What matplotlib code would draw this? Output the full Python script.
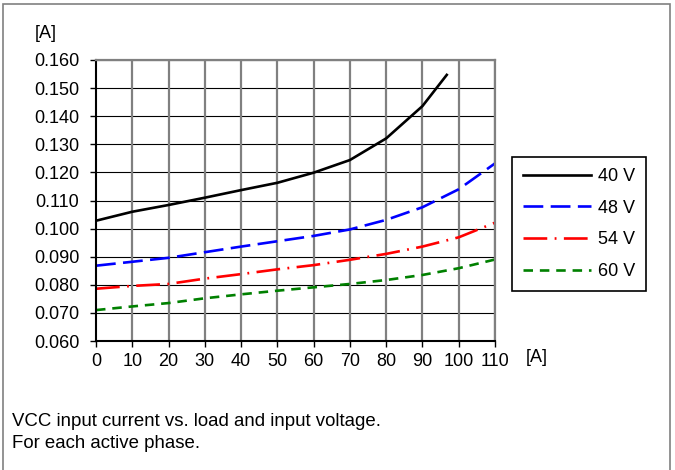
import matplotlib
matplotlib.use("Agg")
import matplotlib.pyplot as plt
from matplotlib.patches import Rectangle

plt.rcParams['font.family'] = ['Liberation Sans', 'DejaVu Sans']

# load current [A]
load = [0, 10, 20, 30, 40, 50, 60, 70, 80, 90, 100, 110]
load_40 = [0, 10, 20, 30, 40, 50, 60, 70, 80, 90, 96.7]

# VCC input current [A] per input voltage
vcc_40 = [0.1028, 0.1060, 0.1084, 0.1110, 0.1137, 0.1163, 0.1199, 0.1244, 0.1321, 0.1436, 0.1547]
vcc_48 = [0.0868, 0.0882, 0.0896, 0.0916, 0.0936, 0.0955, 0.0974, 0.0997, 0.1031, 0.1076, 0.1140, 0.1232]
vcc_54 = [0.0786, 0.0796, 0.0803, 0.0822, 0.0838, 0.0855, 0.0870, 0.0889, 0.0910, 0.0936, 0.0969, 0.1021]
vcc_60 = [0.0710, 0.0723, 0.0735, 0.0752, 0.0766, 0.0779, 0.0791, 0.0803, 0.0817, 0.0835, 0.0859, 0.0890]

labels = ["40 V", "48 V", "54 V", "60 V"]
yticks = [0.060, 0.070, 0.080, 0.090, 0.100, 0.110, 0.120, 0.130, 0.140, 0.150, 0.160]

W, H = 675, 470
fs = 13
fig = plt.figure(figsize=(W / 100, H / 100), dpi=100)

# outer gray frame
fig.patches.append(Rectangle((3 / W, -0.1), 667 / W, 1.1 - 4 / H, transform=fig.transFigure,
                             fill=False, edgecolor="#808080", linewidth=1.2))

ax = fig.add_axes([96 / W, 1 - 341 / H, 399 / W, 281 / H])
lw = 1.9
ax.plot(load_40, vcc_40, color="black", lw=lw, label=labels[0])
ax.plot(load, vcc_48, color="blue", lw=lw, dashes=(7.5, 2.8), label=labels[1])
ax.plot(load, vcc_54, color="red", lw=lw, dashes=(9, 2.8, 0.7, 2.8), label=labels[2])
ax.plot(load, vcc_60, color="green", lw=lw, dashes=(3.6, 2.6), label=labels[3])

ax.set_xlim(0, 110)
ax.set_ylim(0.060, 0.160)
ax.set_xticks(load)
ax.set_yticks(yticks)
ax.set_yticklabels(["%.3f" % v for v in yticks])

for x in load[1:]:
    ax.axvline(x, color="#808080", lw=1.6, zorder=0.5)
for y in yticks[1:]:
    ax.axhline(y, color="black", lw=0.8, zorder=0.4)

for s in ["top", "right"]:
    ax.spines[s].set_color("#808080")
    ax.spines[s].set_linewidth(1.6)
for s in ["left", "bottom"]:
    ax.spines[s].set_color("black")
    ax.spines[s].set_linewidth(1.5)

ax.tick_params(axis="both", labelsize=fs, length=4, width=1, direction="out")
ax.tick_params(axis="y", pad=8)
ax.tick_params(axis="x", pad=5)

fig.text(35 / W, 1 - 33 / H, "[A]", fontsize=fs, va="center", ha="left")
fig.text(526 / W, 1 - 357 / H, "[A]", fontsize=fs, va="center", ha="left")

fig.text(12 / W, 1 - 422 / H, "VCC input current vs. load and input voltage.", fontsize=13.4, va="center", ha="left")
fig.text(12 / W, 1 - 444 / H, "For each active phase.", fontsize=13.4, va="center", ha="left")

leg = fig.legend(loc="upper left", bbox_to_anchor=(512 / W, 1 - 157 / H), borderaxespad=0,
                 fontsize=fs, handlelength=3.75, handletextpad=0.4, labelspacing=0.82,
                 borderpad=0.6, fancybox=False, framealpha=1)
leg.get_frame().set_edgecolor("black")
leg.get_frame().set_linewidth(1.2)

fig.savefig("out.png", dpi=100)
